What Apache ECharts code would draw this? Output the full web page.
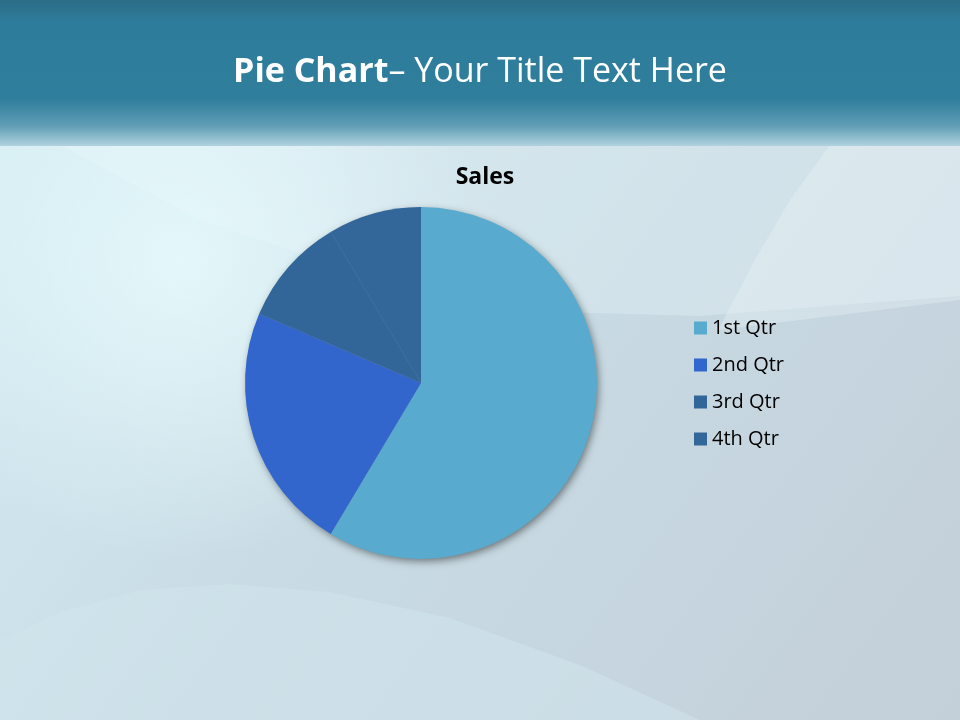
<!DOCTYPE html>
<html lang="en">
<head>
  <meta charset="UTF-8">
  <title>Pie Chart</title>
  <style>
    html, body { margin: 0; padding: 0; }
    #chart { width: 960px; height: 720px; }
  </style>
</head>
<body>
<div id="chart"></div>
<script src="https://cdn.jsdelivr.net/npm/echarts@6/dist/echarts.min.js"></script>
<script>
  // data
  var categories = ['1st Qtr', '2nd Qtr', '3rd Qtr', '4th Qtr'];
  var sales = [8.2, 3.2, 1.4, 1.2];
  var sliceColors = ['#58abce', '#3366cc', '#326699', '#336699'];
  var chartTitle = 'Sales';

  var total = sales.reduce(function (a, b) { return a + b; }, 0);

  var myChart = echarts.init(document.getElementById('chart'));

  var option = {
    backgroundColor: {
      type: 'linear', x: 0, y: 0, x2: 1, y2: 1,
      colorStops: [
        { offset: 0, color: '#d6eff5' },
        { offset: 0.45, color: '#c9dce5' },
        { offset: 1, color: '#c3cfd9' }
      ]
    },
    graphic: [
      // soft light patches and swooshes of the slide background
      {
        type: 'circle', silent: true, z: 0,
        shape: { cx: 180, cy: 260, r: 300 },
        style: {
          fill: {
            type: 'radial', x: 0.5, y: 0.5, r: 0.5,
            colorStops: [
              { offset: 0, color: 'rgba(230,250,252,0.9)' },
              { offset: 1, color: 'rgba(230,250,252,0)' }
            ]
          }
        }
      },
      {
        type: 'polygon', silent: true, z: 0,
        shape: { points: [[60, 145], [200, 220], [380, 280], [560, 312], [700, 316], [840, 305], [960, 296], [1000, 290], [1000, 100], [60, 100]] },
        style: { fill: 'rgba(235,248,252,0.3)' }
      },
      {
        type: 'polygon', silent: true, z: 0,
        shape: { points: [[830, 145], [790, 200], [755, 260], [718, 330], [800, 320], [880, 310], [960, 300], [1000, 296], [1000, 100], [850, 100]] },
        style: { fill: 'rgba(240,250,253,0.3)' }
      },
      {
        type: 'polygon', silent: true, z: 0,
        shape: { points: [[-20, 650], [60, 612], [140, 590], [230, 584], [330, 592], [450, 618], [580, 665], [700, 720], [700, 760], [-20, 760]] },
        style: { fill: 'rgba(210,230,238,0.5)' }
      },
      // header band
      {
        type: 'rect', silent: true, z: 1,
        shape: { x: 0, y: 0, width: 960, height: 146 },
        style: {
          fill: {
            type: 'linear', x: 0, y: 0, x2: 0, y2: 1,
            colorStops: [
              { offset: 0, color: '#2c6c86' },
              { offset: 0.15, color: '#2e7c9b' },
              { offset: 0.68, color: '#2f7e9c' },
              { offset: 0.86, color: '#5f9db5' },
              { offset: 1, color: '#b0d2de' }
            ]
          }
        }
      },
      {
        type: 'text', silent: true, z: 3,
        left: 'center', top: 55,
        style: {
          text: '{b|Pie Chart}{n|– Your Title Text Here}',
          rich: {
            b: { fontFamily: 'Open Sans', fontWeight: 'bold', fontSize: 34, fill: '#ffffff' },
            n: { fontFamily: 'Open Sans', fontSize: 34, fill: '#ffffff' }
          }
        }
      }
    ],
    title: {
      text: chartTitle,
      left: 480,
      textAlign: 'center',
      top: 161,
      textStyle: { fontFamily: 'Open Sans', fontWeight: 'bold', fontSize: 23, color: '#000000' }
    },
    legend: {
      orient: 'vertical',
      left: 689,
      top: 313,
      itemWidth: 13,
      itemHeight: 13,
      itemGap: 17,
      icon: 'rect',
      data: categories,
      textStyle: { fontFamily: 'Open Sans', fontSize: 20, color: '#000000' }
    },
    series: [
      {
        // shadow disc under the pie
        type: 'pie',
        silent: true,
        center: [421, 383],
        radius: 175,
        z: 1,
        label: { show: false },
        labelLine: { show: false },
        data: [{ value: total, name: '' }],
        itemStyle: {
          color: '#8a96a0',
          shadowBlur: 8,
          shadowOffsetX: 2,
          shadowOffsetY: 3,
          shadowColor: 'rgba(0,0,0,0.5)'
        }
      },
      {
        name: chartTitle,
        type: 'pie',
        center: [421, 383],
        radius: 176,
        startAngle: 90,
        clockwise: true,
        z: 2,
        label: { show: false },
        labelLine: { show: false },
        itemStyle: { borderWidth: 0 },
        emphasis: { disabled: true },
        data: categories.map(function (c, i) {
          return { name: c, value: sales[i], itemStyle: { color: sliceColors[i] } };
        })
      }
    ]
  };

  myChart.setOption(option);
</script>
</body>
</html>
